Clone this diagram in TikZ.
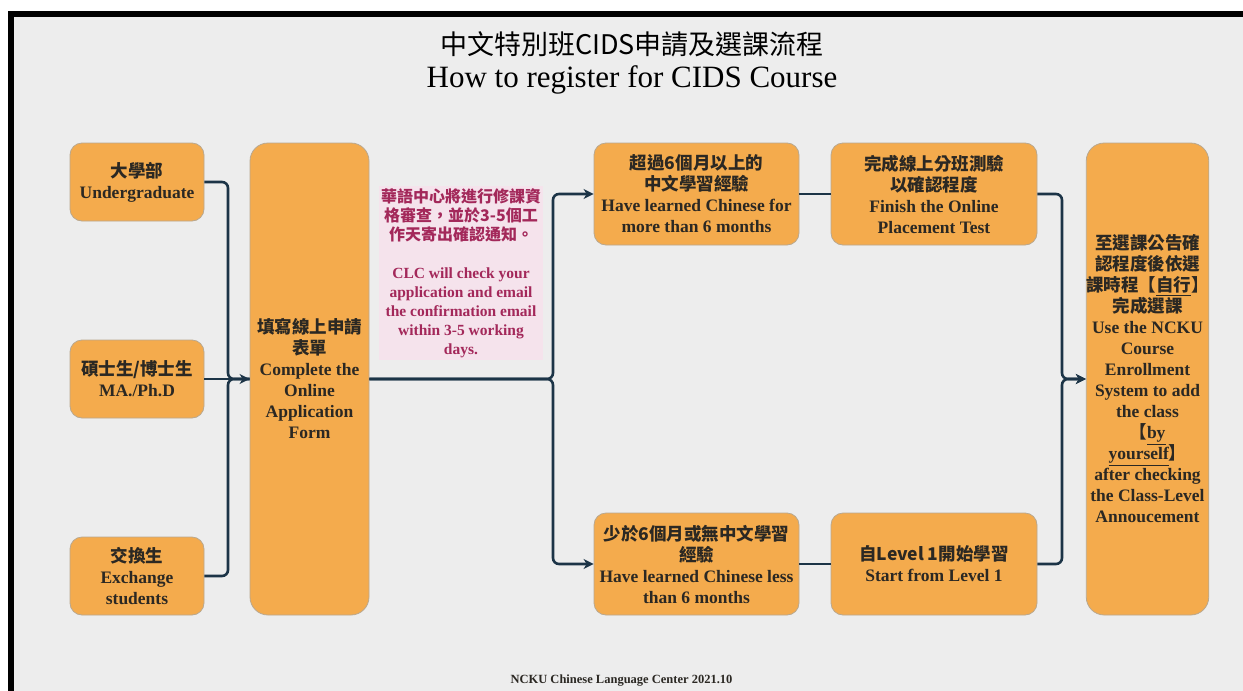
\documentclass[tikz,border=0pt]{standalone}
\usepackage{fontspec}
\setmainfont{Liberation Serif}
\newfontfamily\cjk{Noto Sans CJK TC}
\usetikzlibrary{arrows.meta}
\definecolor{bg}{HTML}{EDEDED}
\definecolor{boxfill}{HTML}{F4AB4D}
\definecolor{boxline}{HTML}{B9A88F}
\definecolor{conn}{HTML}{1C3447}
\definecolor{notefill}{HTML}{F5E3EC}
\definecolor{notetext}{HTML}{A3285A}
\definecolor{txt}{HTML}{2B2823}
\newcommand{\zh}[1]{{\cjk\bfseries #1}}
\tikzset{
  stepbox/.style={draw=boxline, line width=0.8pt, fill=boxfill, rounded corners=12pt,
    text=txt, font=\fontsize{17.5}{21}\selectfont\bfseries, align=center, inner sep=0pt},
  tallbox/.style={stepbox, rounded corners=18pt, minimum width=119pt, minimum height=472pt},
  smallbox/.style={stepbox, minimum width=134pt, minimum height=78pt},
  midbox/.style={stepbox, minimum width=205pt, minimum height=102pt},
  notebox/.style={fill=notefill, text=notetext, font=\fontsize{15.5}{19}\selectfont\bfseries,
    align=center, inner sep=0pt, minimum width=164pt, minimum height=174pt},
  link/.style={draw=conn, line width=2.6pt, rounded corners=6pt},
  arrowlink/.style={link, -{Stealth[length=10pt,width=10pt,inset=3pt]}},
}
\begin{document}
\begin{tikzpicture}[x=1pt,y=1pt]
\useasboundingbox (0,0) rectangle (1243,-691);
\fill[white] (0,0) rectangle (1243,-691);
\fill[bg] (14,-17) rectangle (1243,-691);
\fill[black] (8,-11) rectangle (1243,-17);
\fill[black] (8,-11) rectangle (14,-691);

\node[text=black, font=\cjk\fontsize{27}{30}\selectfont] (t1) at (632,-44) {中文特別班CIDS申請及選課流程};
\node[text=black, font=\fontsize{31}{34}\selectfont] (t2) at (632,-80) {How to register for CIDS Course};

\node[smallbox] (ug) at (137,-182) {\zh{大學部}\\Undergraduate};
\node[smallbox] (ma) at (137,-379) {\zh{碩士生/博士生}\\MA./Ph.D};
\node[smallbox] (ex) at (137,-576) {\zh{交換生}\\Exchange\\students};

\node[tallbox] (form) at (309.5,-379) {\zh{填寫線上申請}\\\zh{表單}\\Complete the\\Online\\Application\\Form};

\node[notebox] (note) at (461,-273) {{\cjk\bfseries\fontsize{16}{19}\selectfont 華語中心將進行修課資}\\{\cjk\bfseries\fontsize{16}{19}\selectfont 格審查，並於3-5個工}\\{\cjk\bfseries\fontsize{16}{19}\selectfont 作天寄出確認通知。}\\[19pt]CLC will check your\\application and email\\the confirmation email\\within 3-5 working\\days.};

\node[midbox] (gt) at (696.5,-194) {\zh{超過6個月以上的}\\\zh{中文學習經驗}\\Have learned Chinese for\\more than 6 months};
\node[midbox, minimum width=206pt] (test) at (934,-194) {\zh{完成線上分班測驗}\\\zh{以確認程度}\\Finish the Online\\Placement Test};
\node[midbox] (lt) at (696.5,-564) {\zh{少於6個月或無中文學習}\\\zh{經驗}\\Have learned Chinese less\\than 6 months};
\node[midbox, minimum width=206pt] (lvl) at (934,-564) {\zh{自Level 1開始學習}\\Start from Level 1};

\node[tallbox] (final) at (1147.5,-379) {\zh{至選課公告確}\\\zh{認程度後依選}\\\zh{課時程【\underline{自行}】}\\\zh{完成選課}\\Use the NCKU\\Course\\Enrollment\\System to add\\the class\\\zh{【}\underline{by}\\\underline{yourself}\zh{】}\\after checking\\the Class-Level\\Annoucement};

\node[text=txt, font=\fontsize{12.5}{14}\selectfont\bfseries] (foot) at (621.5,-681) {NCKU Chinese Language Center 2021.10};

\coordinate (j1) at (228,-379);
\coordinate (j2) at (553,-300);
\coordinate (j3) at (553,-450);
\coordinate (j4) at (1062,-300);
\coordinate (j5) at (1062,-450);

\draw[link] (ug.east) -| (j1) -- (form.west);
\draw[link] (ex.east) -| (j1) -- (form.west);
\draw[arrowlink] (ma.east) -- (form.west);

\draw[arrowlink] (form.east) -| (j2) |- (gt.west);
\draw[arrowlink] (form.east) -| (j3) |- (lt.west);

\draw[link] (gt.east) -- (test.west);
\draw[link] (lt.east) -- (lvl.west);

\draw[arrowlink] (test.east) -| (j4) |- (final.west);
\draw[arrowlink] (lvl.east) -| (j5) |- (final.west);
\end{tikzpicture}
\end{document}
